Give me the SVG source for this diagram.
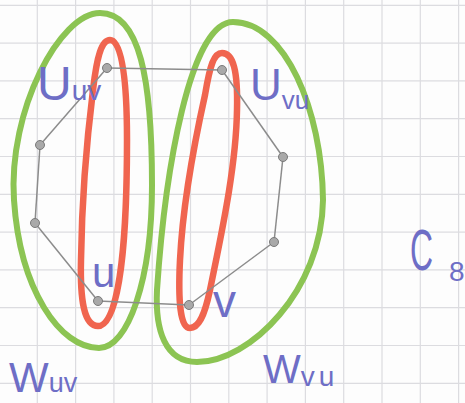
<svg xmlns="http://www.w3.org/2000/svg" width="465" height="403" viewBox="0 0 465 403">
<style>
.grid line{stroke:#dcdce0;stroke-width:1.2}
.green{fill:none;stroke:#8cc453;stroke-width:6;stroke-linejoin:round}
.red{fill:none;stroke:#f0654f;stroke-width:6.5;stroke-linejoin:round}
.edge{stroke:#8c8c8c;stroke-width:1.5;fill:none}
.vtx{fill:#a9a9a9;stroke:#7a7a7a;stroke-width:1}
.lbl{font-family:"Liberation Sans",Arial,sans-serif;fill:#6e6ec6}
</style>
<rect width="465" height="403" fill="#fdfdfd"/>
<g class="grid">
<line x1="37.3" y1="0" x2="37.3" y2="403"/><line x1="75.6" y1="0" x2="75.6" y2="403"/><line x1="113.9" y1="0" x2="113.9" y2="403"/><line x1="152.2" y1="0" x2="152.2" y2="403"/><line x1="190.5" y1="0" x2="190.5" y2="403"/><line x1="228.8" y1="0" x2="228.8" y2="403"/><line x1="267.1" y1="0" x2="267.1" y2="403"/><line x1="305.4" y1="0" x2="305.4" y2="403"/><line x1="343.7" y1="0" x2="343.7" y2="403"/><line x1="382" y1="0" x2="382" y2="403"/><line x1="420.3" y1="0" x2="420.3" y2="403"/><line x1="458.6" y1="0" x2="458.6" y2="403"/>
<line x1="0" y1="5.3" x2="465" y2="5.3"/><line x1="0" y1="43.1" x2="465" y2="43.1"/><line x1="0" y1="80.9" x2="465" y2="80.9"/><line x1="0" y1="118.7" x2="465" y2="118.7"/><line x1="0" y1="156.5" x2="465" y2="156.5"/><line x1="0" y1="194.3" x2="465" y2="194.3"/><line x1="0" y1="232.1" x2="465" y2="232.1"/><line x1="0" y1="269.9" x2="465" y2="269.9"/><line x1="0" y1="307.7" x2="465" y2="307.7"/><line x1="0" y1="345.5" x2="465" y2="345.5"/><line x1="0" y1="383.3" x2="465" y2="383.3"/>
</g>
<g id="set-W_uv"><path class="green" d="M100,13 C140,13 152,80 152,185 C152,280 128,348 99,348 C60,348 20,290 14,200 C8,110 60,13 100,13 Z"/></g>
<g id="set-W_vu"><path class="green" d="M233,22 C285,22 322,110 323,200 C322,290 250,362 197,362 C165,362 155,330 157,290 C165,170 190,22 233,22 Z"/></g>
<g id="set-U_uv"><path class="red" d="M110,40 C122,40 127,80 127,140 C127,220 122,326 98,326 C84,326 80,300 81,260 C82,190 88,130 93,90 C97,55 102,40 110,40 Z"/></g>
<g id="set-U_vu"><path class="red" d="M222,53 C233,53 238,70 237,110 C236,170 220,240 210,290 C204,318 198,328 190,328 C180,328 178,300 180,260 C183,200 195,140 205,95 C210,65 214,53 222,53 Z"/></g>
<g id="connectors">
<line class="edge" x1="107" y1="68" x2="222" y2="70"/>
<line class="edge" x1="222" y1="70" x2="283" y2="157"/>
<line class="edge" x1="283" y1="157" x2="274" y2="242"/>
<line class="edge" x1="274" y1="242" x2="189" y2="305"/>
<line class="edge" x1="189" y1="305" x2="98" y2="301"/>
<line class="edge" x1="98" y1="301" x2="35" y2="223"/>
<line class="edge" x1="35" y1="223" x2="40" y2="145"/>
<line class="edge" x1="40" y1="145" x2="107" y2="68"/>
</g>
<g id="n1"><circle class="vtx" cx="107" cy="68" r="4.5"/></g>
<g id="n2"><circle class="vtx" cx="222" cy="70" r="4.5"/></g>
<g id="n3"><circle class="vtx" cx="283" cy="157" r="4.5"/></g>
<g id="n4"><circle class="vtx" cx="274" cy="242" r="4.5"/></g>
<g id="v"><circle class="vtx" cx="189" cy="305" r="4.5"/></g>
<g id="u"><circle class="vtx" cx="98" cy="301" r="4.5"/></g>
<g id="n7"><circle class="vtx" cx="35" cy="223" r="4.5"/></g>
<g id="n8"><circle class="vtx" cx="40" cy="145" r="4.5"/></g>
<g id="labels">
<text class="lbl" x="37" y="100" font-size="48">U<tspan font-size="28">uv</tspan></text>
<text class="lbl" x="250" y="100" font-size="44">U<tspan font-size="26" dy="9">vu</tspan></text>
<text class="lbl" x="92" y="287" font-size="42">u</text>
<text class="lbl" x="213" y="317" font-size="46">v</text>
<text class="lbl" x="9" y="392" font-size="42">W<tspan font-size="27">uv</tspan></text>
<text class="lbl" x="263" y="383" font-size="40">W<tspan font-size="28" dy="3" letter-spacing="4">vu</tspan></text>
<text class="lbl" transform="translate(410,270) scale(0.55,1)" font-size="58">C</text>
<text class="lbl" x="449" y="281" font-size="28">8</text>
</g>
</svg>
